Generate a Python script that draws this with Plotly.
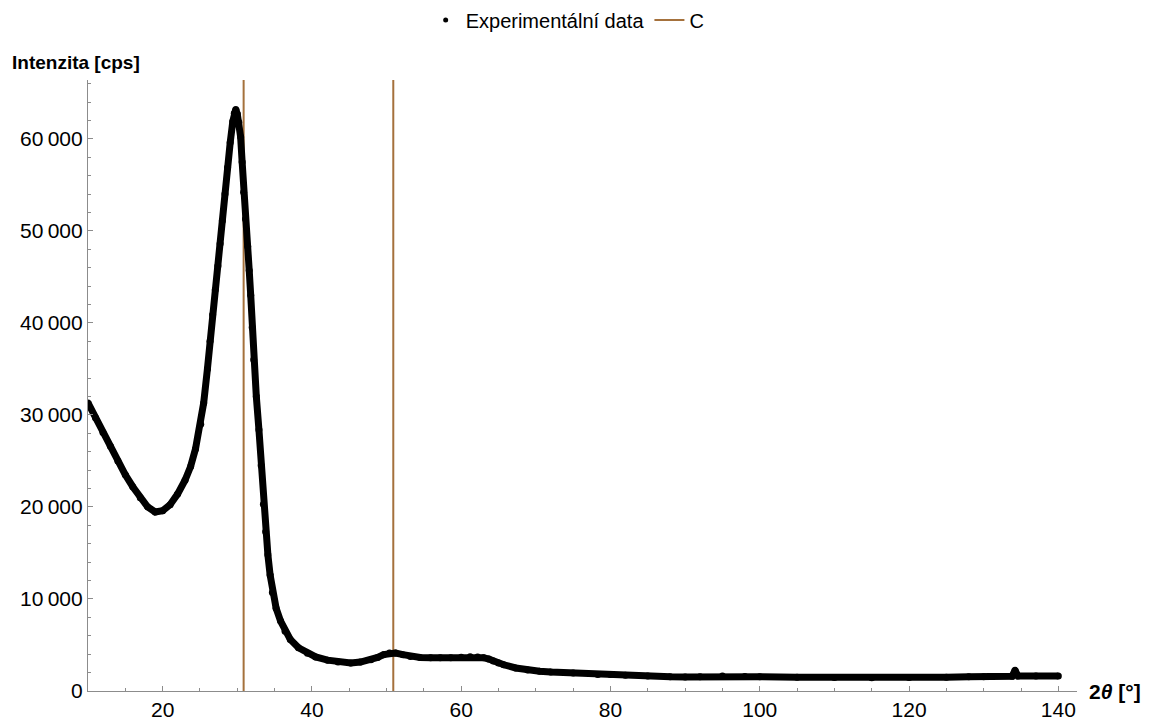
import plotly.graph_objects as go

# Diffraction pattern: 2θ in degrees and measured intensity in counts per second
two_theta = [10, 11, 12, 13, 14, 15, 16, 17, 18, 19, 20, 21, 22, 23, 23.75, 24.4,
             25.1, 25.5, 26.0, 26.35, 26.7, 27.05, 27.4, 27.7, 28.0, 28.35, 28.7,
             29.05, 29.4, 29.6, 29.8, 30.0, 30.2, 30.45, 30.65, 30.85, 31.1, 31.4,
             31.6, 31.8, 32.0, 32.2, 32.55, 32.9, 33.2, 33.5, 33.8, 34.1, 34.4, 34.7,
             35.2, 35.8, 36.4, 37.1, 38.2, 39.4, 40.5, 42.1, 43.5, 45.2, 46.5, 47.9,
             48.8, 49.6, 50.4, 51.2, 52.2, 53.2, 54.5, 55.9, 57.2, 58.6, 60, 61.2,
             62.2, 63.0, 63.7, 64.3, 65.0, 65.7, 67.3, 68.9, 70.5, 72, 75, 78.3, 80,
             82, 85, 88, 90, 92, 95, 98, 100, 105, 110, 115, 120, 125, 128, 130,
             133.8, 134.2, 134.6, 137, 140]
intensity = [31300, 29700, 28100, 26600, 25000, 23500, 22200, 21000, 20000, 19450,
             19600, 20250, 21400, 22900, 24400, 26300, 29000, 31300, 35000, 38000,
             40900, 43600, 46200, 48600, 51100, 54000, 56900, 59600, 61900, 62800,
             63200, 62700, 61800, 60200, 57500, 54200, 51300, 48300, 45700, 43000,
             39500, 36000, 32000, 28400, 24500, 20300, 17300, 14800, 12600, 10700,
             9000, 7600, 6500, 5600, 4700, 4100, 3700, 3350, 3150, 3050, 3150, 3400,
             3650, 3950, 4120, 4120, 3950, 3750, 3650, 3600, 3600, 3620, 3680, 3720,
             3700, 3620, 3470, 3270, 3050, 2850, 2500, 2280, 2150, 2070, 1950, 1800,
             1780, 1700, 1620, 1550, 1530, 1560, 1620, 1580, 1550, 1500, 1460, 1450,
             1460, 1500, 1540, 1560, 1600, 2250, 1620, 1630, 1640]

# Reference line positions for carbon (C)
carbon_positions = [30.85, 50.9]

y_ticks = [0, 10000, 20000, 30000, 40000, 50000, 60000]
y_tick_text = ["0", "10\u2009000", "20\u2009000", "30\u2009000", "40\u2009000",
               "50\u2009000", "60\u2009000"]
x_ticks = [20, 40, 60, 80, 100, 120, 140]

x_range = [10, 142.5]
y_range = [0, 66400]

line_color = "#a5713c"
font_family = "Liberation Sans, Arial, sans-serif"

fig = go.Figure()

# Vertical reference lines spanning the full plot height
cx, cy = [], []
for p in carbon_positions:
    cx += [p, p, None]
    cy += [y_range[0], y_range[1], None]
fig.add_trace(go.Scatter(
    x=cx, y=cy, mode="lines", name="C",
    line=dict(color=line_color, width=2), legendrank=2,
))

# Measured points
fig.add_trace(go.Scatter(
    x=two_theta, y=intensity, mode="lines+markers", showlegend=False,
    line=dict(color="black", width=7),
    marker=dict(color="black", size=7),
))
# Legend entry for the measured points
fig.add_trace(go.Scatter(
    x=[None], y=[None], mode="markers", name="Experimentální data",
    marker=dict(color="black", size=5), legendrank=1,
))

axis_common = dict(
    showgrid=False, zeroline=False, showline=True,
    linecolor="#8c8c8c", linewidth=1.2,
    ticks="inside", tickcolor="#8c8c8c", ticklen=5, tickwidth=1,
    tickfont=dict(family=font_family, size=21, color="black"),
)

fig.update_xaxes(
    range=x_range, tickvals=x_ticks,
    minor=dict(dtick=5, ticks="inside", ticklen=3, tickcolor="#8c8c8c"),
    **axis_common,
)
fig.update_yaxes(
    range=y_range, tickvals=y_ticks, ticktext=y_tick_text,
    minor=dict(dtick=2000, ticks="inside", ticklen=3, tickcolor="#8c8c8c"),
    **axis_common,
)

fig.update_layout(
    width=1152, height=720,
    margin=dict(l=88, r=75, t=80, b=29, autoexpand=False),
    plot_bgcolor="white", paper_bgcolor="white",
    font=dict(family=font_family, color="black"),
    legend=dict(
        orientation="h", x=0.485, xanchor="center", y=1.098, yanchor="middle",
        font=dict(family=font_family, size=20, color="black"),
        itemwidth=30, traceorder="normal",
    ),
    annotations=[
        dict(text="<b>Intenzita [cps]</b>", xref="paper", yref="paper",
             x=-0.079, y=1.028, xanchor="left", yanchor="middle",
             showarrow=False, font=dict(family=font_family, size=19)),
        dict(text="<b>2<i>θ</i> [°]</b>", xref="paper", yref="paper",
             x=1.0101, y=0, xanchor="left", yanchor="middle",
             showarrow=False, font=dict(family=font_family, size=21)),
    ],
)

fig.write_html("out.html")
